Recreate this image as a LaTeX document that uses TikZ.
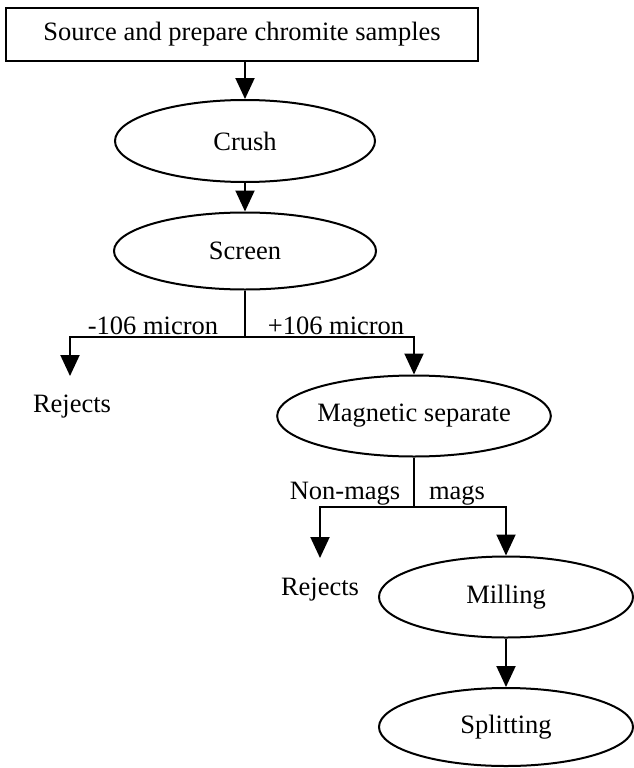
\documentclass[tikz,border=0pt]{standalone}
\usepackage{fontspec}
\setmainfont{Liberation Serif}
\usetikzlibrary{shapes.geometric,arrows.meta}
\begin{document}
\begin{tikzpicture}[x=1pt,y=-1pt,
  every node/.style={font=\fontsize{26.5}{30}\selectfont, inner sep=0pt},
  procbox/.style={draw, line width=2pt, rectangle, minimum width=472pt, minimum height=53pt},
  procell/.style={draw, line width=2pt, ellipse, minimum width=258pt, minimum height=80pt},
  arr/.style={line width=2pt, -{Triangle[width=19pt,length=21pt]}},
  ln/.style={line width=2pt}]
\useasboundingbox (0,0) rectangle (633,768);
\node[procbox] (src) at (242,34.5) {Source and prepare chromite samples};
\node[procell, minimum width=260pt, minimum height=82pt] (crush) at (245,141) {Crush};
\node[procell, minimum width=262pt, minimum height=77pt] (screen) at (245,251) {Screen};
\coordinate (j1) at (245,337);
\coordinate (a1) at (70,376);
\node[anchor=base] (rej1) at (72,412) {Rejects};
\node[procell, minimum width=258pt, minimum height=81pt] (mag) at (414,416) {Magnetic separate};
\coordinate (j2) at (414,507);
\coordinate (a2) at (320,558);
\node[anchor=base] (rej2) at (320,595) {Rejects};
\node[procell, minimum width=254pt, minimum height=81pt] (mill) at (506,597) {Milling};
\node[procell, minimum width=254pt, minimum height=78pt] (split) at (506,727) {Splitting};
\node[anchor=base] (l1) at (153,334) {-106 micron};
\node[anchor=base] (l2) at (336,334) {+106 micron};
\node[anchor=base] (l3) at (345,499) {Non-mags};
\node[anchor=base] (l4) at (457,499) {mags};
\draw[arr] (crush.north |- src.south) -- (crush.north);
\draw[arr] (crush.south) -- (screen.north);
\draw[ln] (screen.south) -- (j1);
\draw[arr] (j1) -| (a1);
\draw[arr] (j1) -| (mag.north);
\draw[ln] (mag.south) -- (j2);
\draw[arr] (j2) -| (a2);
\draw[arr] (j2) -| (mill.north);
\draw[arr] (mill.south) -- (split.north);
\end{tikzpicture}
\end{document}
